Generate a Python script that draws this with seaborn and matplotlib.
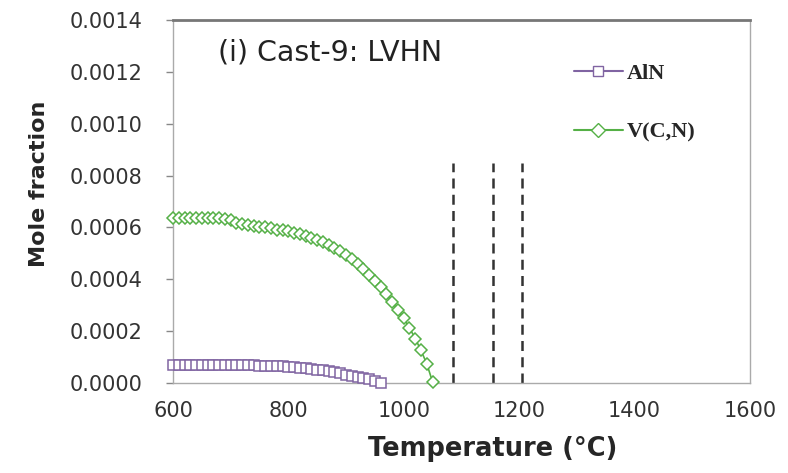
import numpy as np
import pandas as pd
import matplotlib
matplotlib.use("Agg")
import matplotlib.pyplot as plt
from matplotlib.ticker import FormatStrFormatter, MultipleLocator
from matplotlib.lines import Line2D
import seaborn as sns

# Datos
temp_vcn = [600, 610, 620, 630, 640, 650, 660, 670, 680, 690,
            700, 710, 720, 730, 740, 750, 760, 770, 780, 790,
            800, 810, 820, 830, 840, 850, 860, 870, 880, 890,
            900, 910, 920, 930, 940, 950, 960, 970, 980, 990,
            1000, 1010, 1020, 1030, 1040, 1050]
frac_vcn = [0.000636, 0.000636, 0.000636, 0.000636, 0.000636, 0.000636, 0.000636, 0.000636, 0.000635, 0.000634,
            0.000628, 0.000618, 0.000614, 0.000610, 0.000606, 0.000603, 0.000600, 0.000596, 0.000592, 0.000589,
            0.000585, 0.000580, 0.000574, 0.000568, 0.000560, 0.000552, 0.000543, 0.000533, 0.000522, 0.000509,
            0.000495, 0.000478, 0.000460, 0.000440, 0.000418, 0.000394, 0.000369, 0.000342, 0.000312, 0.000282,
            0.000250, 0.000213, 0.000172, 0.000126, 0.000075, 0.000005]

temp_aln = [600, 610, 620, 630, 640, 650, 660, 670, 680, 690,
            700, 710, 720, 730, 740, 750, 760, 770, 780, 790,
            800, 810, 820, 830, 840, 850, 860, 870, 880, 890,
            900, 910, 920, 930, 940, 950, 960]
frac_aln = [0.000070, 0.000070, 0.000070, 0.000070, 0.000070, 0.000070, 0.000070, 0.000070, 0.000069, 0.000069,
            0.000069, 0.000069, 0.000068, 0.000068, 0.000068, 0.000067, 0.000067, 0.000066, 0.000066, 0.000065,
            0.000064, 0.000062, 0.000060, 0.000058, 0.000055, 0.000052, 0.000049, 0.000046, 0.000042, 0.000038,
            0.000033, 0.000029, 0.000024, 0.000019, 0.000014, 0.000008, 0.000002]

lineas_temp = [1085, 1155, 1205]
altura_lineas = 0.00085

color_aln = "#8064A2"
color_vcn = "#55B046"

sns.set_style("white")
plt.rcParams["font.family"] = ["DejaVu Sans"]

fig = plt.figure(figsize=(7.88, 4.73), dpi=100)
ax = fig.add_axes([0.2195, 0.19, 0.732, 0.768])

df_aln = pd.DataFrame({"T": temp_aln, "x": frac_aln})
df_vcn = pd.DataFrame({"T": temp_vcn, "x": frac_vcn})

sns.lineplot(data=df_aln, x="T", y="x", ax=ax, color=color_aln, marker="s",
             markersize=6.5, markerfacecolor="white", markeredgecolor=color_aln,
             markeredgewidth=1.1, linewidth=1.2, clip_on=False, zorder=3)
sns.lineplot(data=df_vcn, x="T", y="x", ax=ax, color=color_vcn, marker="D",
             markersize=6.5, markerfacecolor="white", markeredgecolor=color_vcn,
             markeredgewidth=1.1, linewidth=1.2, clip_on=False, zorder=3)

ax.vlines(lineas_temp, 0, altura_lineas, colors="#333333", linestyles=(0, (4, 2.5)),
          linewidth=1.8, zorder=2)

ax.set_xlim(600, 1600)
ax.set_ylim(0, 0.0014)
ax.xaxis.set_major_locator(MultipleLocator(200))
ax.yaxis.set_major_locator(MultipleLocator(0.0002))
ax.yaxis.set_major_formatter(FormatStrFormatter("%.4f"))

ax.tick_params(axis="y", length=5, width=1, color="#888888", pad=17,
               labelsize=15, labelcolor="#333333", left=True)
ax.tick_params(axis="x", length=0, pad=13, labelsize=15, labelcolor="#333333")

for lado in ["left", "right", "bottom"]:
    ax.spines[lado].set_color("#aaaaaa")
    ax.spines[lado].set_linewidth(1)
ax.spines["top"].set_color("#777777")
ax.spines["top"].set_linewidth(2)

ax.set_xlabel("Temperature (°C)", fontsize=18.5, fontweight="bold")
ax.xaxis.set_label_coords(0.555, -0.145)
ax.set_ylabel("Mole fraction", fontsize=16, fontweight="bold")
ax.yaxis.set_label_coords(-0.215, 0.55)

ax.text(0.078, 0.91, "(i) Cast-9: LVHN", transform=ax.transAxes, fontsize=20.5,
        family="DejaVu Sans", color="#222222", va="center", ha="left")

manejadores = [
    Line2D([0], [0], color=color_aln, marker="s", markersize=7,
           markerfacecolor="white", markeredgecolor=color_aln, lw=1.5),
    Line2D([0], [0], color=color_vcn, marker="D", markersize=7,
           markerfacecolor="white", markeredgecolor=color_vcn, lw=1.5),
]
ax.legend(manejadores, ["AlN", "V(C,N)"], loc="upper left", bbox_to_anchor=(0.66, 0.935),
          frameon=False, labelspacing=1.7, handlelength=2.2, handletextpad=0.2,
          prop={"family": "Liberation Serif", "weight": "bold", "size": 16})

plt.savefig("out.png", dpi=100)
plt.close()
